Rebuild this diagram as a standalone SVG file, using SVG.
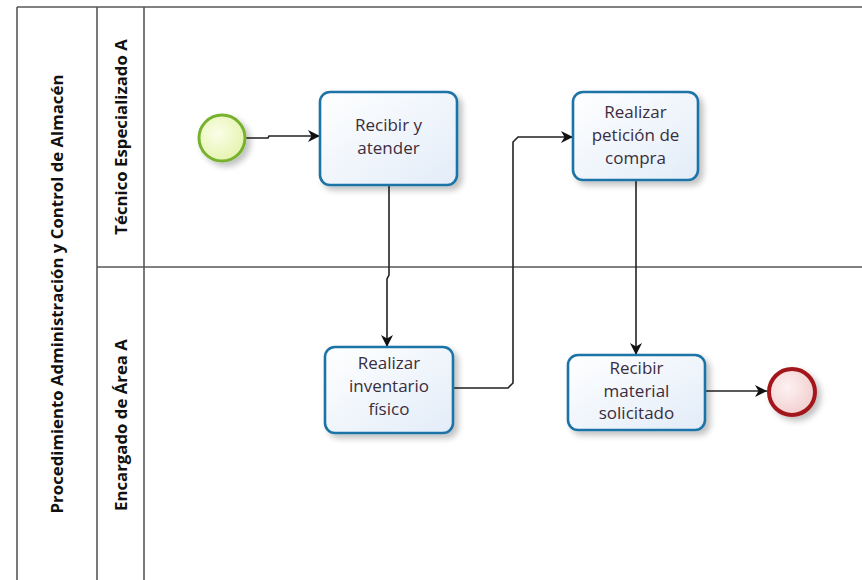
<svg xmlns="http://www.w3.org/2000/svg" width="862" height="580" viewBox="0 0 862 580">
<style>
.lane{fill:none;stroke:#585858;stroke-width:1.6}
.hdr{font-family:"Open Sans","Liberation Sans",sans-serif;font-weight:bold;font-size:16.8px;fill:#111;text-anchor:middle}
.task{fill:url(#tg);stroke:#1f73a6;stroke-width:2.6;filter:url(#sh)}
.tt{font-family:"Open Sans","Liberation Sans",sans-serif;font-size:17px;fill:#3a2d3d;text-anchor:middle}
.conn{fill:none;stroke:#222;stroke-width:1.6;marker-end:url(#ar)}
</style>
<defs>
<linearGradient id="tg" x1="0" y1="0" x2="1" y2="1"><stop offset="0" stop-color="#ffffff"/><stop offset="1" stop-color="#e2ecf8"/></linearGradient>
<radialGradient id="sg" cx="0.4" cy="0.4" r="0.7"><stop offset="0" stop-color="#fbfee8"/><stop offset="1" stop-color="#e2f2a8"/></radialGradient>
<radialGradient id="eg" cx="0.4" cy="0.4" r="0.7"><stop offset="0" stop-color="#fdf2f2"/><stop offset="1" stop-color="#f1caca"/></radialGradient>
<filter id="sh" x="-20%" y="-20%" width="150%" height="150%"><feGaussianBlur in="SourceAlpha" stdDeviation="3"/><feOffset dx="4" dy="4"/><feComponentTransfer><feFuncA type="linear" slope="0.25"/></feComponentTransfer><feMerge><feMergeNode/><feMergeNode in="SourceGraphic"/></feMerge></filter>
<marker id="ar" markerWidth="14" markerHeight="14" refX="12" refY="6" orient="auto" markerUnits="userSpaceOnUse"><path d="M0,0 L12,6 L0,12 L3.5,6 Z" fill="#111"/></marker>
</defs>
<rect width="862" height="580" fill="#fff"/>
<g id="pool">
<path class="lane" d="M17,7 H862 M17,7 V580 M97,7 V580 M144,7 V580 M97,267 H862"/>
<text class="hdr" transform="translate(63,294) rotate(-90)">Procedimiento Administración y Control de Almacén</text>
</g>
<g id="lane1"><text class="hdr" transform="translate(127,137) rotate(-90)">Técnico Especializado A</text></g>
<g id="lane2"><text class="hdr" transform="translate(127,425) rotate(-90)">Encargado de Área A</text></g>
<g id="connectors">
<path class="conn" d="M246,138 L268,138 L269,136 L320,136"/>
<path class="conn" d="M389,185 L389,275 L387,279 L387,347"/>
<path class="conn" d="M453,388 L508,388 L513,383 L513,142 L518,137 L573,137"/>
<path class="conn" d="M636,180 L636,355"/>
<path class="conn" d="M705,391 L767,391"/>
</g>
<g id="start"><circle cx="222" cy="138" r="23" fill="url(#sg)" stroke="#77b22e" stroke-width="3" filter="url(#sh)"/></g>
<g id="recibir"><rect class="task" x="320" y="92" width="137" height="93" rx="10"/><text class="tt" x="388.5" y="131">Recibir y</text><text class="tt" x="388.5" y="154">atender</text></g>
<g id="peticion"><rect class="task" x="573" y="92" width="125" height="88" rx="10"/><text class="tt" x="635.5" y="118">Realizar</text><text class="tt" x="635.5" y="141">petición de</text><text class="tt" x="635.5" y="164">compra</text></g>
<g id="inventario"><rect class="task" x="325" y="347" width="128" height="86" rx="10"/><text class="tt" x="389" y="369">Realizar</text><text class="tt" x="389" y="392">inventario</text><text class="tt" x="389" y="415">físico</text></g>
<g id="material"><rect class="task" x="568" y="355" width="137" height="75" rx="10"/><text class="tt" x="636.5" y="374">Recibir</text><text class="tt" x="636.5" y="397">material</text><text class="tt" x="636.5" y="419">solicitado</text></g>
<g id="end"><circle cx="792" cy="392" r="23" fill="url(#eg)" stroke="#a3151b" stroke-width="4" filter="url(#sh)"/></g>
</svg>
